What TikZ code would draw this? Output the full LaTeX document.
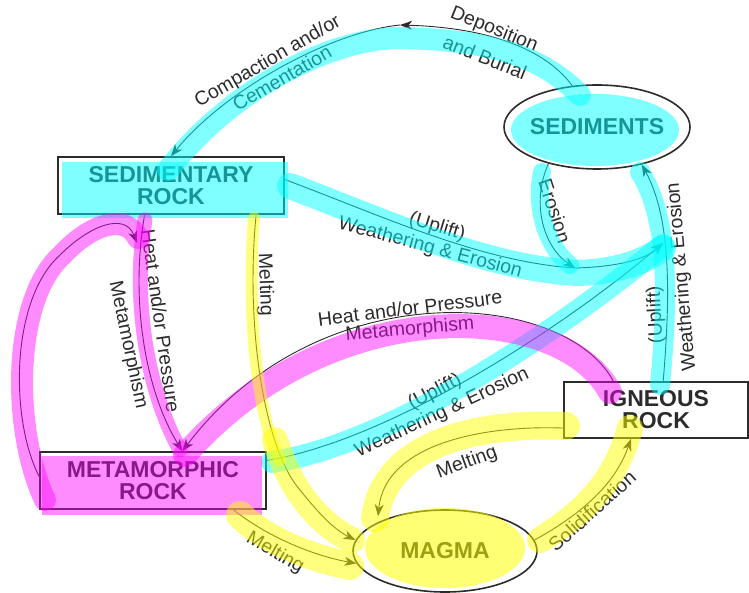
\documentclass[tikz,border=0pt]{standalone}
\usepackage{fontspec}
\setmainfont{Liberation Sans}
\usetikzlibrary{arrows.meta,shapes.geometric}
\definecolor{ink}{HTML}{2B2B2B}
\definecolor{hlcyan}{rgb}{0,1,1}
\definecolor{hlmag}{rgb}{1,0,1}
\definecolor{hlyel}{rgb}{1,1,0}
\begin{document}
\begin{tikzpicture}[x=1pt,y=-1pt,
  rockbox/.style={draw=ink, line width=1.6pt, rectangle, align=center, text=ink,
     font=\fontsize{23}{22}\selectfont\bfseries, inner sep=0pt},
  rockoval/.style={draw=ink, line width=1.6pt, ellipse, text=ink,
     font=\fontsize{23}{22}\selectfont\bfseries, inner sep=0pt},
  flow/.style={draw=ink, line width=0.9pt, -{Stealth[length=12pt,width=9pt,inset=3.5pt]}},
  lbl/.style={text=ink, font=\fontsize{19.5}{20}\selectfont, inner sep=0pt},
  hcyan/.style={draw=hlcyan, opacity=0.5, line cap=round, line join=round},
  hmag/.style={draw=hlmag, opacity=0.45, line cap=round, line join=round},
  hyel/.style={draw=hlyel, opacity=0.5, line cap=round, line join=round},
  fcyan/.style={fill=hlcyan, opacity=0.5},
  fmag/.style={fill=hlmag, opacity=0.45},
  fyel/.style={fill=hlyel, opacity=0.55}
]
\useasboundingbox (0,0) rectangle (749,593);

% nodes
\node[rockbox, minimum width=226pt, minimum height=57pt] (sedr) at (171,185.5) {SEDIMENTARY\\ROCK};
\node[rockoval, minimum width=186pt, minimum height=84pt] (sedi) at (597,127) {\makebox[0pt]{SEDIMENTS}};
\node[rockbox, minimum width=226pt, minimum height=57pt] (meta) at (153,480.5) {METAMORPHIC\\ROCK};
\node[rockbox, minimum width=184pt, minimum height=56pt] (ign) at (656,410) {IGNEOUS\\ROCK};
\node[rockoval, minimum width=184pt, minimum height=82pt] (mag) at (445,551) {\makebox[0pt]{MAGMA}};

\coordinate (topc) at (400,25);
\coordinate (join) at (663,243);
\coordinate (ero) at (575,268);
\coordinate (loopend) at (137,243);

% connectors
\draw[flow] (sedi.121) .. controls (550,55) and (500,28) .. (topc);
\draw[flow] (topc) .. controls (330,32) and (225,90) .. (sedr.north);
\draw[flow] (sedr.3) .. controls (380,215) and (480,262) .. (ero) .. controls (615,267) and (645,260) .. (join);
\draw[flow] (sedi.217) .. controls (530,205) and (545,248) .. (ero);
\draw[flow] (meta.10) .. controls (390,440) and (560,330) .. (join);
\draw[flow] (ign.76) .. controls (670,300) and (672,220) .. (sedi.-40);
\draw[flow] (sedr.-132) .. controls (130,300) and (145,390) .. (meta.45);
\draw[flow] (ign.146) .. controls (565,290) and (320,270) .. (meta.45);
\draw[flow] (meta.178) .. controls (10,420) and (10,300) .. (60,255) .. controls (90,225) and (125,212) .. (loopend);
\draw[flow] (sedr.-19) .. controls (245,330) and (265,450) .. (300,490) .. controls (320,515) and (335,530) .. (mag.173);
\draw[flow] (meta.-20) .. controls (265,535) and (310,555) .. (mag.188);
\draw[flow, shorten >=6pt] (ign.191) .. controls (480,425) and (385,445) .. (mag.157);
\draw[flow] (mag.7) .. controls (580,515) and (615,485) .. (ign.229);

% labels
\node[lbl, rotate=-22] (tDep) at (494,30) {Deposition};
\node[lbl, rotate=-22] (tBur) at (485,57) {and Burial};
\node[lbl, rotate=30] (tCom) at (268,62) {Compaction and/or};
\node[lbl, rotate=30] (tCem) at (282,78) {Cementation};
\node[lbl, rotate=-17] (tUpA) at (437,227) {(Uplift)};
\node[lbl, rotate=-15] (tWeA) at (430,248) {Weathering \& Erosion};
\node[lbl, rotate=-72] (tEro) at (555,211) {Erosion};
\node[lbl, rotate=95] (tWeC) at (682,277) {Weathering \& Erosion};
\node[lbl, rotate=93] (tUpC) at (656,315) {(Uplift)};
\node[lbl, rotate=-82] (tHeA) at (161,321) {Heat and/or Pressure};
\node[lbl, rotate=-78] (tMeA) at (128,345) {Metamorphism};
\node[lbl, rotate=-88] (tMlA) at (265,285) {Melting};
\node[lbl, rotate=7] (tHeB) at (410,308) {Heat and/or Pressure};
\node[lbl, rotate=5] (tMeB) at (410,330) {Metamorphism};
\node[lbl, rotate=28] (tUpB) at (435,392) {(Uplift)};
\node[lbl, rotate=25] (tWeB) at (442,413) {Weathering \& Erosion};
\node[lbl, rotate=20] (tMlC) at (467,463) {Melting};
\node[lbl, rotate=-30] (tMlB) at (275,553) {Melting};
\node[lbl, rotate=42] (tSol) at (592,511) {Solidification};

% highlighter marks
% cyan
\draw[hcyan, line width=22pt] (580,95) .. controls (545,60) and (500,40) .. (400,38) .. controls (330,38) and (230,90) .. (168,170);
\path[fcyan] (62,162) rectangle (288,218);
\path[fcyan] (595,130) ellipse [x radius=84, y radius=36];
\draw[hcyan, line width=26pt] (290,186) .. controls (385,222) and (485,268) .. (577,273) .. controls (615,272) and (645,262) .. (663,248);
\draw[hcyan, line width=18pt] (542,172) .. controls (535,205) and (545,245) .. (570,265);
\draw[hcyan, line width=22pt] (272,462) .. controls (390,445) and (560,330) .. (663,245);
\draw[hcyan, line width=20pt] (660,385) .. controls (668,300) and (670,220) .. (640,172);
% magenta
\draw[hmag, line width=22pt] (45,500) .. controls (12,430) and (12,300) .. (62,255) .. controls (90,225) and (125,212) .. (138,238);
\draw[hmag, line width=15pt] (145,220) .. controls (132,300) and (147,390) .. (180,450);
\draw[hmag, line width=24pt] (610,392) .. controls (560,300) and (330,290) .. (185,455);
\path[fmag] (42,456) rectangle (262,515);
% yellow
\draw[hyel, line width=12pt] (254,218) .. controls (245,330) and (262,430) .. (280,460);
\draw[hyel, line width=26pt] (275,440) .. controls (290,490) and (320,525) .. (352,540);
\draw[hyel, line width=28pt] (240,515) .. controls (265,540) and (310,558) .. (350,566);
\draw[hyel, line width=28pt] (566,426) .. controls (480,422) and (385,442) .. (375,518);
\draw[hyel, line width=26pt] (540,540) .. controls (580,515) and (615,485) .. (630,428);
\path[fyel] (445,548) ellipse [x radius=80, y radius=40];
\end{tikzpicture}
\end{document}
